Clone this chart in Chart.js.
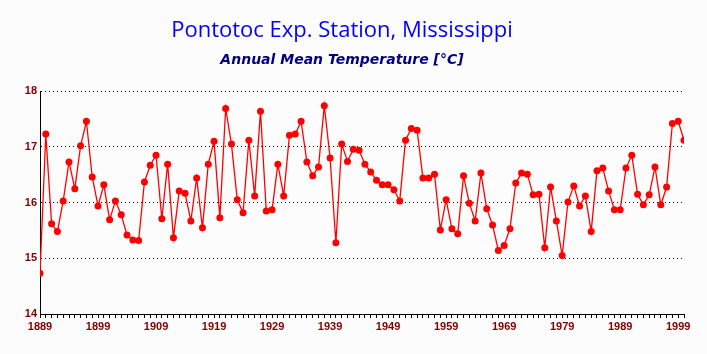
<!DOCTYPE html>
<html>
<head>
<meta charset="utf-8">
<script src="https://cdn.jsdelivr.net/npm/chart.js@4"></script>
<style>
  html, body { margin: 0; padding: 0; background: #fcfcfc; }
  #wrap { width: 707px; height: 354px; }
</style>
</head>
<body>
<div id="wrap"><canvas id="tempChart" width="707" height="354"></canvas></div>
<script>
// Pontotoc Exp. Station, Mississippi - annual mean temperature
const years = [
    1889, 1890, 1891, 1892, 1893, 1894, 1895, 1896, 1897, 1898,
    1899, 1900, 1901, 1902, 1903, 1904, 1905, 1906, 1907, 1908,
    1909, 1910, 1911, 1912, 1913, 1914, 1915, 1916, 1917, 1918,
    1919, 1920, 1921, 1922, 1923, 1924, 1925, 1926, 1927, 1928,
    1929, 1930, 1931, 1932, 1933, 1934, 1935, 1936, 1937, 1938,
    1939, 1940, 1941, 1942, 1943, 1944, 1945, 1946, 1947, 1948,
    1949, 1950, 1951, 1952, 1953, 1954, 1955, 1956, 1957, 1958,
    1959, 1960, 1961, 1962, 1963, 1964, 1965, 1966, 1967, 1968,
    1969, 1970, 1971, 1972, 1973, 1974, 1975, 1976, 1977, 1978,
    1979, 1980, 1981, 1982, 1983, 1984, 1985, 1986, 1987, 1988,
    1989, 1990, 1991, 1992, 1993, 1994, 1995, 1996, 1997, 1998,
    1999, 2000
];
const temps = [
    14.73, 17.23, 15.62, 15.48, 16.03, 16.73, 16.25, 17.02, 17.46, 16.46,
    15.94, 16.32, 15.69, 16.03, 15.78, 15.42, 15.33, 15.32, 16.37, 16.67,
    16.85, 15.71, 16.69, 15.37, 16.21, 16.17, 15.67, 16.44, 15.55, 16.69,
    17.10, 15.73, 17.69, 17.05, 16.05, 15.82, 17.12, 16.12, 17.64, 15.85,
    15.87, 16.69, 16.12, 17.21, 17.23, 17.46, 16.73, 16.48, 16.64, 17.74,
    16.80, 15.28, 17.05, 16.74, 16.96, 16.94, 16.69, 16.55, 16.40, 16.32,
    16.32, 16.23, 16.03, 17.12, 17.33, 17.30, 16.44, 16.44, 16.51, 15.51,
    16.05, 15.53, 15.44, 16.48, 15.99, 15.67, 16.53, 15.89, 15.60, 15.14,
    15.23, 15.53, 16.35, 16.53, 16.51, 16.14, 16.15, 15.19, 16.28, 15.67,
    15.05, 16.01, 16.30, 15.94, 16.12, 15.48, 16.57, 16.62, 16.21, 15.87,
    15.87, 16.62, 16.85, 16.15, 15.96, 16.14, 16.64, 15.96, 16.28, 17.42,
    17.46, 17.12
];
const yTicks = [14, 15, 16, 17, 18];
const labelYears = [1889, 1899, 1909, 1919, 1929, 1939, 1949, 1959, 1969, 1979, 1989, 1999];

const tickFont = { family: 'Arial, "Liberation Sans", sans-serif', size: 11, weight: 'bold' };
const tickColor = '#800000';

new Chart(document.getElementById('tempChart'), {
    type: 'line',
    data: {
        datasets: [{
            data: years.map((y, i) => ({ x: y, y: temps[i] })),
            borderColor: '#ff0000',
            backgroundColor: '#ff0000',
            borderWidth: 1.3,
            pointRadius: 3.5,
            pointBorderWidth: 0,
            pointBackgroundColor: '#ff0000',
            tension: 0
        }]
    },
    options: {
        responsive: false,
        animation: false,
        layout: { padding: { left: 0, right: 23, top: 0, bottom: 0 } },
        plugins: {
            legend: { display: false },
            tooltip: { enabled: false },
            title: {
                display: true,
                text: 'Pontotoc Exp. Station, Mississippi',
                color: '#0000ff',
                font: { family: '"Open Sans", sans-serif', size: 22, weight: 'normal' },
                padding: { top: 18, bottom: 8 }
            },
            subtitle: {
                display: true,
                text: 'Annual Mean Temperature [°C]',
                color: '#000080',
                font: { family: '"DejaVu Sans", sans-serif', size: 14, weight: 'bold', style: 'italic' },
                padding: { top: 0, bottom: 22 }
            }
        },
        scales: {
            x: {
                type: 'linear',
                min: 1889,
                max: 2000,
                afterBuildTicks: (scale) => {
                    scale.ticks = years.map(v => ({ value: v }));
                },
                afterFit: (scale) => { scale.height = 40; },
                ticks: {
                    autoSkip: false,
                    maxRotation: 0,
                    padding: 2,
                    color: tickColor,
                    font: tickFont,
                    callback: (v) => labelYears.includes(v) ? String(v) : ''
                },
                grid: {
                    drawOnChartArea: false,
                    drawTicks: true,
                    tickLength: 4,
                    tickColor: '#000000'
                },
                border: { display: true, color: '#000000', width: 1 }
            },
            y: {
                min: 14,
                max: 18,
                afterBuildTicks: (scale) => {
                    scale.ticks = yTicks.map(v => ({ value: v }));
                },
                afterFit: (scale) => { scale.width = 40; },
                ticks: {
                    padding: 3,
                    color: tickColor,
                    font: tickFont,
                    callback: (v) => String(v)
                },
                grid: {
                    drawTicks: false,
                    color: (ctx) => ctx.tick && ctx.tick.value === 14 ? 'rgba(0,0,0,0)' : '#000000',
                    lineWidth: 1
                },
                border: { display: true, color: '#000000', width: 1, dash: [1, 3] }
            }
        }
    }
});
</script>
</body>
</html>
